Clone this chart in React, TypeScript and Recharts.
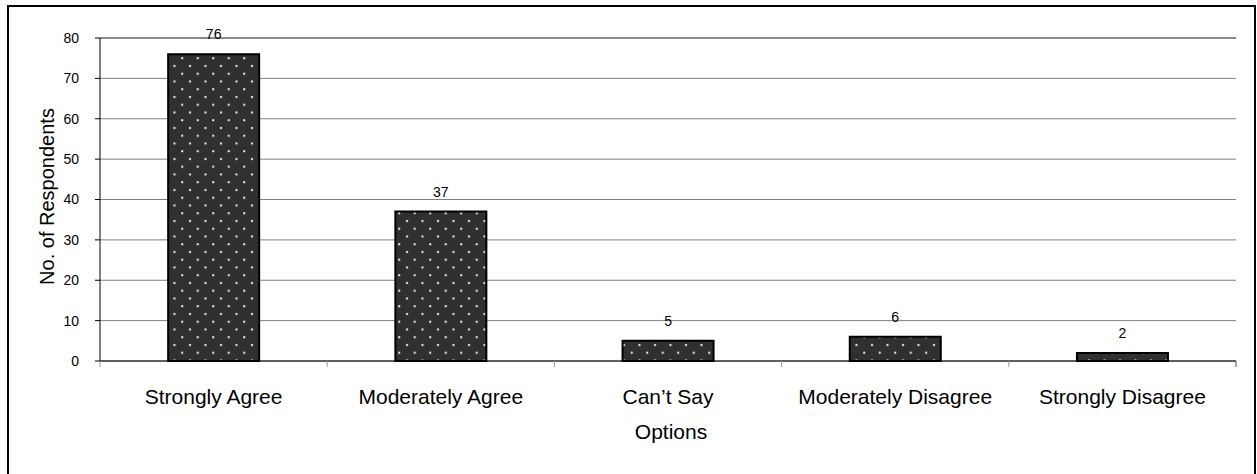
import React from 'react';
import { BarChart, Bar, XAxis, YAxis, CartesianGrid, LabelList, ReferenceLine } from 'recharts';

// Survey responses per option
const categories = ['Strongly Agree', 'Moderately Agree', 'Can\u2019t Say', 'Moderately Disagree', 'Strongly Disagree'];
const respondents = [76, 37, 5, 6, 2];
const yTicks = [0, 10, 20, 30, 40, 50, 60, 70, 80];

const data = categories.map((option, i) => ({ option, count: respondents[i] }));

const FONT = '"Liberation Sans", Arial, Helvetica, sans-serif';

// Category label plus the short separators that sit on the band boundaries
function CategoryTick(props: any) {
  const { x, y, payload, index } = props;
  const half = payload && typeof payload.offset === 'number' ? payload.offset : 0;
  const axisY = y - 28;
  const last = index === categories.length - 1;
  return (
    <g>
      <line x1={x - half} x2={x - half} y1={axisY} y2={axisY + 6} stroke="#999" strokeWidth={1} />
      {last && <line x1={x + half} x2={x + half} y1={axisY} y2={axisY + 6} stroke="#555" strokeWidth={1} />}
      <text x={x} y={y} dy="0.71em" textAnchor="middle" fontSize={21} fill="#000" fontFamily={FONT}>
        {payload.value}
      </text>
    </g>
  );
}

function YTitle({ viewBox }: any) {
  const cx = viewBox.x + 14;
  const cy = viewBox.y + viewBox.height / 2 - 3;
  return (
    <text x={cx} y={cy} transform={`rotate(-90 ${cx} ${cy})`} textAnchor="middle" fontSize={20} fill="#000" fontFamily={FONT}>
      No. of Respondents
    </text>
  );
}

function XTitle({ viewBox }: any) {
  const cx = viewBox.x + viewBox.width / 2 + 3;
  const cy = viewBox.y + 78;
  return (
    <text x={cx} y={cy} textAnchor="middle" fontSize={21} fill="#000" fontFamily={FONT}>
      Options
    </text>
  );
}

export default function App() {
  return (
    <div
      style={{
        position: 'absolute',
        left: 0,
        top: 0,
        width: 1257,
        height: 474,
        overflow: 'hidden',
        background: '#fff',
        fontFamily: FONT,
      }}
    >
      <div
        style={{
          position: 'absolute',
          left: 7,
          top: 5,
          width: 1249,
          height: 500,
          boxSizing: 'border-box',
          border: '2px solid #000',
        }}
      />
      <div style={{ position: 'absolute', left: 0, top: 0 }}>
        <BarChart
          width={1257}
          height={474}
          data={data}
          margin={{ top: 38, right: 21, bottom: 10, left: 40 }}
          barCategoryGap="30%"
        >
          <defs>
            <pattern id="dots" patternUnits="userSpaceOnUse" width={15.5} height={15.5}>
              <rect x={0} y={0} width={15.5} height={15.5} fill="#303030" />
              <rect x={3} y={3} width={2} height={2} fill="#f2f2f2" />
              <rect x={10.75} y={10.75} width={2} height={2} fill="#f2f2f2" />
            </pattern>
          </defs>
          <CartesianGrid vertical={false} stroke="#808080" />
          <ReferenceLine y={80} stroke="#555" />
          <XAxis
            dataKey="option"
            height={103}
            axisLine={{ stroke: '#000', strokeWidth: 1 }}
            tickLine={false}
            tickSize={6}
            tickMargin={22}
            interval={0}
            tick={<CategoryTick />}
            label={{ content: <XTitle /> }}
          />
          <YAxis
            domain={[0, 80]}
            ticks={yTicks}
            width={60}
            axisLine={{ stroke: '#000', strokeWidth: 1 }}
            tickLine={{ stroke: '#000' }}
            tickSize={5}
            tickMargin={16}
            tick={{ fontSize: 14, fill: '#000' }}
            label={{ content: <YTitle /> }}
          />
          <YAxis
            yAxisId="frame"
            orientation="right"
            domain={[0, 80]}
            width={0}
            tick={false}
            tickLine={false}
            axisLine={{ stroke: '#555', strokeWidth: 1 }}
          />
          <Bar dataKey="count" fill="url(#dots)" stroke="#000" strokeWidth={2} isAnimationActive={false}>
            <LabelList dataKey="count" position="top" offset={15} fontSize={14} fill="#000" />
          </Bar>
        </BarChart>
      </div>
    </div>
  );
}
